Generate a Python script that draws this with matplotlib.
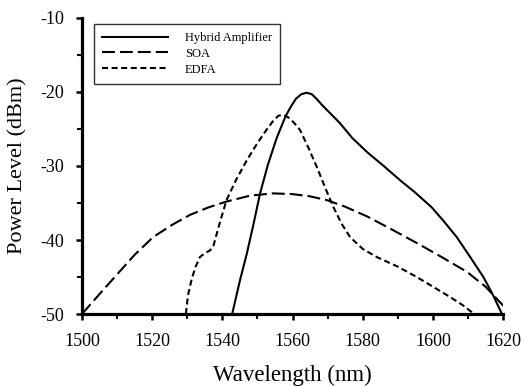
import matplotlib
matplotlib.use("Agg")
import matplotlib.pyplot as plt
from matplotlib.ticker import MultipleLocator

# values
hybrid_x = [1542.8, 1545.0, 1547.0, 1549.0, 1550.7, 1553.0, 1555.5, 1558.0, 1559.5, 1561.0, 1562.5,
            1564.0, 1565.5, 1567.0, 1568.5, 1571.0, 1573.5, 1577.0, 1581.2, 1586.0, 1590.6,
            1595.0, 1599.7, 1603.0, 1606.8, 1610.5, 1614.4, 1617.0, 1619.6]
hybrid_y = [-50.0, -45.5, -41.8, -37.6, -33.8, -29.8, -26.2, -23.3, -22.0, -20.9, -20.3,
            -20.1, -20.3, -21.0, -21.8, -23.0, -24.2, -26.2, -28.1, -30.0, -31.9,
            -33.6, -35.6, -37.4, -39.6, -42.2, -45.0, -47.3, -49.9]

soa_x = [1500.0, 1505.0, 1509.9, 1515.0, 1520.3, 1525.5, 1530.8, 1536.0, 1541.2, 1548.0, 1554.5,
         1560.0, 1565.0, 1569.7, 1575.0, 1581.2, 1588.0, 1595.4, 1602.5, 1609.7, 1615.0, 1620.1]
soa_y = [-50.0, -47.3, -44.7, -42.0, -39.6, -38.0, -36.6, -35.6, -34.8, -34.0, -33.7,
         -33.8, -34.1, -34.6, -35.5, -36.8, -38.5, -40.4, -42.3, -44.3, -46.3, -48.9]

edfa_x = [1529.6, 1530.2, 1531.3, 1532.4, 1533.6, 1535.0, 1536.5, 1537.4, 1539.2, 1541.2, 1544.0,
          1547.0, 1550.0, 1552.6, 1554.5, 1556.0, 1557.5, 1559.0, 1560.5, 1562.1, 1564.5,
          1566.9, 1569.2, 1571.6, 1574.0, 1576.4, 1580.0, 1584.0, 1590.0, 1595.4, 1600.0,
          1604.9, 1608.5, 1611.5]
edfa_y = [-50.0, -47.5, -45.2, -43.6, -42.3, -41.8, -41.4, -40.9, -37.8, -34.6, -31.8,
          -29.2, -26.9, -25.1, -23.9, -23.2, -23.1, -23.5, -24.2, -25.1, -27.5,
          -30.1, -32.8, -35.5, -37.8, -39.6, -41.2, -42.3, -43.6, -45.0, -46.3,
          -47.7, -48.8, -49.9]

plt.rcParams['font.family'] = ['Liberation Serif', 'DejaVu Serif']
plt.rcParams['axes.unicode_minus'] = False

fig = plt.figure(figsize=(5.27, 3.86), dpi=100)
ax = fig.add_axes([0.1556, 0.1865, 0.7989, 0.7669])

ax.plot(hybrid_x, hybrid_y, color="k", lw=1.5, label="Hybrid Amplifier")
ax.plot(soa_x, soa_y, color="k", lw=1.5, dashes=(6.2, 2.4), label="SOA")
ax.plot(edfa_x, edfa_y, color="k", lw=1.5, dashes=(2.9, 1.7), label="EDFA")

ax.set_xlim(1500, 1620)
ax.set_ylim(-50, -10)
ax.xaxis.set_major_locator(MultipleLocator(20))
ax.xaxis.set_minor_locator(MultipleLocator(10))
ax.yaxis.set_major_locator(MultipleLocator(10))
ax.yaxis.set_minor_locator(MultipleLocator(5))

for side in ["top", "right"]:
    ax.spines[side].set_visible(False)
for side in ["left", "bottom"]:
    ax.spines[side].set_linewidth(2.3)
ax.tick_params(which="major", direction="out", length=4, width=1.8, labelsize=13)
ax.tick_params(axis="x", which="major", pad=10)
ax.tick_params(axis="y", which="major", pad=9)
ax.tick_params(which="minor", direction="out", length=3.5, width=1.5)

ax.set_xlabel("Wavelength (nm)", fontsize=16.5, labelpad=10)
ax.set_ylabel("Power Level (dBm)", fontsize=16, labelpad=9)

leg = ax.legend(loc="upper left", bbox_to_anchor=(0.0285, 0.98), borderaxespad=0,
                fontsize=9, handlelength=5.3, frameon=True, fancybox=False,
                edgecolor="k", borderpad=0.65, labelspacing=0.3, handletextpad=1.3)
leg.get_frame().set_linewidth(1.0)

fig.savefig("out.png", dpi=100)
